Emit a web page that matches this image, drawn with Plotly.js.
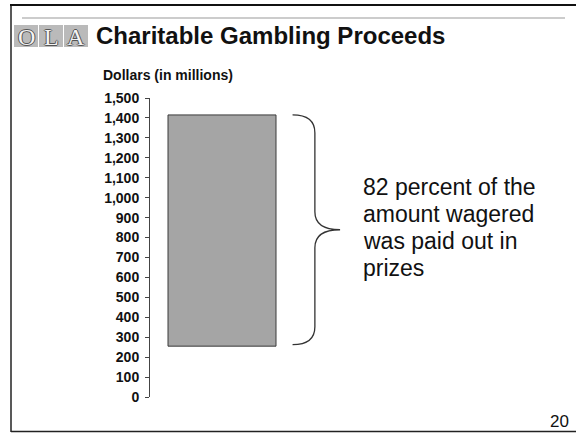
<!DOCTYPE html>
<html>
<head>
<meta charset="utf-8">
<script src="https://cdn.plot.ly/plotly-3.0.1.min.js"></script>
<style>
  html, body { margin: 0; padding: 0; background: #fff; }
  #wrap { position: relative; width: 576px; height: 433px; }
  #chart { width: 576px; height: 433px; }
  #topline { position: absolute; left: 10px; right: 0; top: 4px; height: 2px; background: #111; }
</style>
</head>
<body>
<div id="wrap">
<div id="chart"></div>
<div id="topline"></div>
</div>
<script>
// ---- data ----
const categories = ['Charitable gambling'];
const totalWagered = [1415];   // $ millions wagered (top of bar)
const prizesPaid = [1160];     // $ millions paid out in prizes (82%)
const tickValues = [0, 100, 200, 300, 400, 500, 600, 700, 800, 900, 1000, 1100, 1200, 1300, 1400, 1500];
const tickLabels = ['0', '100', '200', '300', '400', '500', '600', '700', '800', '900', '1,000', '1,100', '1,200', '1,300', '1,400', '1,500'];
const noteLines = ['82 percent of the', 'amount wagered', 'was paid out in', 'prizes'];
const titleText = 'Charitable Gambling Proceeds';
const axisLabel = 'Dollars (in millions)';
const logoLetters = ['O', 'L', 'A'];
const pageNumber = '20';

// ---- layout helpers ----
const W = 576, H = 433;
const M = { l: 150, r: 16, t: 98, b: 36 };
const PW = W - M.l - M.r, PH = H - M.t - M.b;
const px = x => (x - M.l) / PW;
const py = y => 1 - (y - M.t) / PH;
const FONT = 'Liberation Sans, Arial, sans-serif';

const barBase = totalWagered.map((t, i) => t - prizesPaid[i]);

const trace = {
  type: 'bar',
  x: [0],
  y: prizesPaid,
  base: barBase,
  width: 0.75,
  marker: {
    color: '#acacac',
    pattern: { shape: '.', fgcolor: '#8e8e8e', bgcolor: '#b8b8b8', size: 2, solidity: 0.5 },
    line: { color: '#3a3a3a', width: 1 }
  },
  hoverinfo: 'skip',
  name: categories[0]
};

// brace in data coordinates around the bar
const bTop = totalWagered[0], bBot = barBase[0] + 8, bMid = (bTop + bBot) / 2;
const xa = 0.49, xv = 0.645, xt = 0.82, rr = 90;
const bracePath = `M ${xa},${bTop} Q ${xv},${bTop} ${xv},${bTop - rr} L ${xv},${bMid + rr} Q ${xv},${bMid} ${xt},${bMid} Q ${xv},${bMid} ${xv},${bMid - rr} L ${xv},${bBot + rr} Q ${xv},${bBot} ${xa},${bBot}`;

const shapes = [
  { type: 'path', xref: 'x', yref: 'y', path: bracePath, line: { color: '#333', width: 1.3 } },
  // slide frame
  { type: 'line', xref: 'paper', yref: 'paper', x0: px(22), x1: px(565), y0: py(18), y1: py(18), line: { color: '#999', width: 1 } },
  { type: 'line', xref: 'paper', yref: 'paper', x0: px(11), x1: px(11), y0: py(5), y1: py(432), line: { color: '#222', width: 1.5 } },
  { type: 'line', xref: 'paper', yref: 'paper', x0: px(11), x1: px(576), y0: py(431.5), y1: py(431.5), line: { color: '#222', width: 1.5 } }
];

const annotations = [];
// logo squares
const logoX = [14, 39, 64], logoW = 24;
logoLetters.forEach((L, i) => {
  shapes.push({ type: 'rect', xref: 'paper', yref: 'paper', x0: px(logoX[i]), x1: px(logoX[i] + logoW), y0: py(25), y1: py(47),
    fillcolor: '#bababa', line: { width: 0 } });
  annotations.push({ xref: 'paper', yref: 'paper', x: px(logoX[i] + logoW / 2), y: py(36.5), xanchor: 'center', yanchor: 'middle',
    text: L, showarrow: false,
    font: { family: 'Liberation Serif, serif', size: 24, color: '#f4f4f4', shadow: '1px 0 0 #555, -1px 0 0 #555, 0 1px 0 #555, 0 -1px 0 #555' } });
});
annotations.push({ xref: 'paper', yref: 'paper', x: px(94), y: py(36), xanchor: 'left', yanchor: 'middle',
  text: '<b>' + titleText + '</b>', showarrow: false, font: { family: FONT, size: 24, color: '#111' } });
annotations.push({ xref: 'paper', yref: 'paper', x: px(101), y: py(75), xanchor: 'left', yanchor: 'middle',
  text: '<b>' + axisLabel + '</b>', showarrow: false, font: { family: FONT, size: 14, color: '#111' } });
const lineY = [187, 214, 241, 268];
noteLines.forEach((t, i) => {
  annotations.push({ xref: 'paper', yref: 'paper', x: px(361), y: py(lineY[i]), xanchor: 'left', yanchor: 'middle',
    text: t, showarrow: false, font: { family: FONT, size: 23, color: '#111' } });
});
annotations.push({ xref: 'paper', yref: 'paper', x: px(571), y: py(421), xanchor: 'right', yanchor: 'middle',
  text: pageNumber, showarrow: false, font: { family: FONT, size: 17, color: '#111' } });

const layout = {
  width: W, height: H,
  margin: M,
  paper_bgcolor: '#fff', plot_bgcolor: '#fff',
  showlegend: false,
  xaxis: { visible: false, range: [-0.5, -0.5 + PW / 144], fixedrange: true },
  yaxis: {
    range: [0, 1500], tickvals: tickValues, ticktext: tickLabels,
    showgrid: false, zeroline: false, showline: true, linecolor: '#444', linewidth: 1,
    ticks: 'outside', ticklen: 4, tickcolor: '#444', tickwidth: 1, ticklabelstandoff: 3,
    tickfont: { family: FONT, size: 14, color: '#111', weight: 'bold' },
    fixedrange: true
  },
  shapes: shapes,
  annotations: annotations
};

Plotly.newPlot('chart', [trace], layout, { displayModeBar: false, staticPlot: true });
</script>
</body>
</html>
